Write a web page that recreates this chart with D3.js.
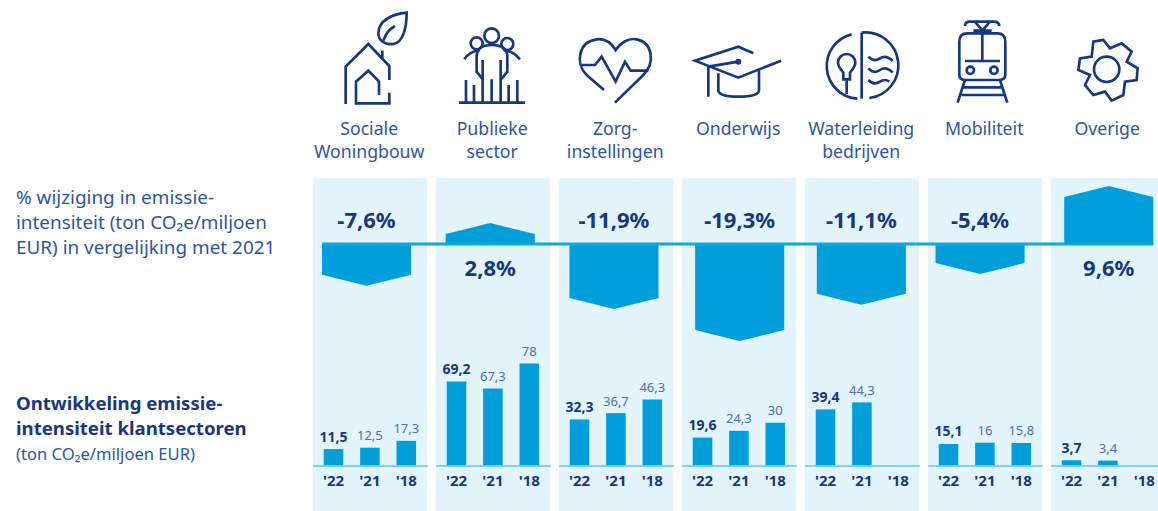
<!DOCTYPE html>
<html>
<head>
<meta charset="utf-8">
<script src="https://cdn.jsdelivr.net/npm/d3@7"></script>
<style>
  html, body { margin: 0; padding: 0; background: #fff; overflow: hidden; }
  text { font-family: "Noto Sans", sans-serif; }
</style>
</head>
<body>
<svg id="chart" width="1158" height="511"></svg>
<script>
"use strict";

const sectors = ["Sociale Woningbouw", "Publieke sector", "Zorg-instellingen", "Onderwijs", "Waterleiding bedrijven", "Mobiliteit", "Overige"];
const sectorLines = [["Sociale", "Woningbouw"], ["Publieke", "sector"], ["Zorg-", "instellingen"], ["Onderwijs"], ["Waterleiding", "bedrijven"], ["Mobiliteit"], ["Overige"]];
const changes = [-7.6, 2.8, -11.9, -19.3, -11.1, -5.4, 9.6];
const years = ["'22", "'21", "'18"];
const values22 = [11.5, 69.2, 32.3, 19.6, 39.4, 15.1, 3.7];
const values21 = [12.5, 67.3, 36.7, 24.3, 44.3, 16, 3.4];
const values18 = [17.3, 78, 46.3, 30, null, 15.8, null];
const changeTitle = ["% wijziging in emissie-", "intensiteit (ton CO₂e/miljoen", "EUR) in vergelijking met 2021"];
const intensityTitle = ["Ontwikkeling emissie-", "intensiteit klantsectoren"];
const intensityUnit = "(ton CO₂e/miljoen EUR)";

const NAVY = "#16387f", BLUE_TEXT = "#2b57a0", SOFT_TEXT = "#4f6fae";
const BAR = "#009fdb", PANEL = "#e3f4fb", LINE = "#5cc6ec";

const svg = d3.select("#chart");
const fmt = v => String(v).replace(".", ",");

// panels run off the right edge of the page, same as the original
const panelX = d3.scaleBand().domain(sectors).range([312.7, 1165.1]).paddingInner(0.07).paddingOuter(0);
const changeBand = d3.scaleBand().domain(sectors).range([322, 1153.3]).paddingInner(0.28).paddingOuter(0);
// these two sit a little off the regular spacing in the original
const changeX = s => changeBand(s) + (s === "Mobiliteit" ? -5 : s === "Onderwijs" ? 2 : 0);
// the original's bars are not quite to one scale, hence the extra stops
const changeY = d3.scaleLinear().domain([-19.3, -11.9, -5.4, 0, 2.8, 9.6]).range([330, 298, 263, 244, 234, 197]);
const barH = d3.scaleLinear().domain([0, 46.3, 67.3, 69.2, 78]).range([0, 66, 77, 84, 102]);
const yearX = d3.scaleBand().domain(years).range([0, panelX.bandwidth()]).paddingInner(0.463).paddingOuter(0.303);
const BAR_BASE = 465.5, TIP = 11;

svg.selectAll("rect.panel").data(sectors).enter().append("rect")
  .attr("class", "panel")
  .attr("x", d => panelX(d)).attr("y", 178)
  .attr("width", panelX.bandwidth()).attr("height", 333)
  .attr("fill", PANEL);

// sector names
sectors.forEach((s, i) => {
  const t = svg.append("text")
    .attr("text-anchor", "middle").attr("fill", BLUE_TEXT).attr("font-size", 17.7);
  sectorLines[i].forEach((line, j) => {
    t.append("tspan").attr("x", panelX(s) + 56.5).attr("y", 135 + j * 22.5).text(line);
  });
});

// change bars, pointed at the far end
svg.selectAll("path.change").data(changes).enter().append("path")
  .attr("class", "change")
  .attr("fill", BAR)
  .attr("d", (d, i) => {
    const x0 = changeX(sectors[i]), w = changeBand.bandwidth();
    const tip = changeY(d) + (d < 0 ? TIP : -TIP);
    return d3.line()([[x0, changeY(0)], [x0, changeY(d)], [x0 + w / 2, tip], [x0 + w, changeY(d)], [x0 + w, changeY(0)]]);
  });

svg.append("line")
  .attr("x1", changeX(sectors[0])).attr("x2", changeX(sectors[6]) + changeBand.bandwidth())
  .attr("y1", changeY(0)).attr("y2", changeY(0))
  .attr("stroke", "#12a5df").attr("stroke-width", 3);

svg.selectAll("text.changeLabel").data(changes).enter().append("text")
  .attr("class", "changeLabel")
  .attr("x", (d, i) => changeX(sectors[i]) + changeBand.bandwidth() / 2)
  .attr("y", d => d < 0 ? 228 : 276)
  .attr("text-anchor", "middle").attr("font-size", 22).attr("font-weight", 700)
  .attr("fill", NAVY)
  .text(d => fmt(d) + "%");

// small bar charts, one per sector
sectors.forEach((s, i) => {
  const g = svg.append("g").attr("transform", "translate(" + panelX(s) + ",0)");
  const row = [values22[i], values21[i], values18[i]];

  row.forEach((d, k) => {
    if (d === null) return;
    g.append("rect")
      .attr("x", yearX(years[k]))
      .attr("y", BAR_BASE - barH(d))
      .attr("width", yearX.bandwidth())
      .attr("height", barH(d))
      .attr("fill", BAR);
    g.append("text")
      .attr("x", yearX(years[k]) + yearX.bandwidth() / 2)
      .attr("y", BAR_BASE - barH(d) - 7.5)
      .attr("text-anchor", "middle")
      .attr("font-size", k === 0 ? 14 : 13)
      .attr("font-weight", k === 0 ? 700 : 400)
      .attr("fill", k === 0 ? NAVY : SOFT_TEXT)
      .text(fmt(d));
  });

  const axis = g.append("g").attr("transform", "translate(0," + BAR_BASE + ")")
    .call(d3.axisBottom(yearX).tickSize(0).tickPadding(10));
  axis.select(".domain").attr("stroke", LINE).attr("stroke-width", 1.5);
  axis.selectAll("text")
    .attr("fill", NAVY).attr("font-size", 15).attr("font-weight", 700)
    .style("font-family", '"Noto Sans", sans-serif');
});

// left hand titles
changeTitle.forEach((line, i) => {
  svg.append("text").attr("x", 16).attr("y", 204 + i * 25)
    .attr("font-size", 18.9).attr("fill", BLUE_TEXT).text(line);
});
intensityTitle.forEach((line, i) => {
  svg.append("text").attr("x", 16).attr("y", 410 + i * 25)
    .attr("font-size", 18.6).attr("font-weight", 700).attr("fill", NAVY).text(line);
});
svg.append("text").attr("x", 16).attr("y", 460)
  .attr("font-size", 16.6).attr("fill", BLUE_TEXT).text(intensityUnit);

// icons, traced at 3x from the original
function icon(x, y, paths, circles) {
  const g = svg.append("g")
    .attr("transform", "translate(" + x + "," + y + ") scale(0.3333)")
    .attr("fill", "none").attr("stroke", NAVY).attr("stroke-width", 8)
    .attr("stroke-linejoin", "miter");
  paths.forEach(p => g.append("path").attr("d", p));
  (circles || []).forEach(c => g.append("circle").attr("cx", c[0]).attr("cy", c[1]).attr("r", c[2]));
  return g;
}

// house + leaf
icon(300, 0, [
  "M137,312V200L205,132L268,198V240",
  "M268,278V310H168V245L205,212L237,245V285",
  "M247,152V178",
  "M320,38C280,42 235,60 235,100C235,125 260,135 280,132C310,128 320,80 320,38Z",
  "M250,122C258,100 265,90 285,78"
]);
// people
icon(300, 0, [
  "M493,178C505,160 520,152 540,150",
  "M660,178C645,160 630,152 610,150",
  "M550,240L530,215V170Q530,135 575,135Q622,135 622,170V215L602,240",
  "M548,180V308M602,180V308",
  "M498,240V308M522,255V308M575,238V308M626,255V308M652,240V308",
  "M477,308H675"
], [[575, 107, 22], [530, 130, 18], [622, 132, 18]]);
// heart
icon(300, 0, [
  "M912,270L860,225C825,190 835,125 890,118C915,115 935,130 947,150C960,130 985,113 1010,118C1060,128 1065,190 1030,225L945,308",
  "M845,195H885L905,170L947,245L975,185L992,212H1045"
]);
// graduation cap
icon(685, 35, [
  "M205,55L160,35L30,77L160,128L288,77",
  "M70,95V185M70,95L160,80",
  "M100,115V165Q100,185 160,185Q222,185 222,165V105"
], [[160, 80, 5]]);
// water + light
icon(730, 0, [
  "M395,98V296",
  "M395,98A98,98 0 0 1 418,294",
  "M365,103A98,98 0 0 0 382,296",
  "M340,218C330,205 324,198 324,188A26,26 0 0 1 376,188C376,198 370,205 360,218V238H340Z",
  "M350,240V282",
  "M415,170q18,18 35,5q18,-12 38,8",
  "M415,205q18,18 35,5q18,-12 38,8",
  "M415,240q18,18 35,5q14,-10 28,0"
]);
// tram
icon(730, 0, [
  "M688,125Q688,100 712,100H802Q826,100 826,125V225Q826,240 805,240H708Q688,240 688,225Z",
  "M757,100V180M705,183H810",
  "M705,78Q705,65 720,65H790Q808,65 808,78",
  "M735,65L757,92L780,65M730,92H785",
  "M705,240L683,308M810,240L832,308M700,262H815M695,285H822"
], [[721, 211, 11], [792, 211, 11]]);
// gear
icon(1065, 30, [
  "M85,35L115,30L135,55L170,40L200,65L185,95L218,115L215,150L180,155L175,195L140,212L120,185L85,195L60,165L75,135L40,120L45,85L80,80Z"
], [[125, 118, 38]]);
</script>
</body>
</html>
